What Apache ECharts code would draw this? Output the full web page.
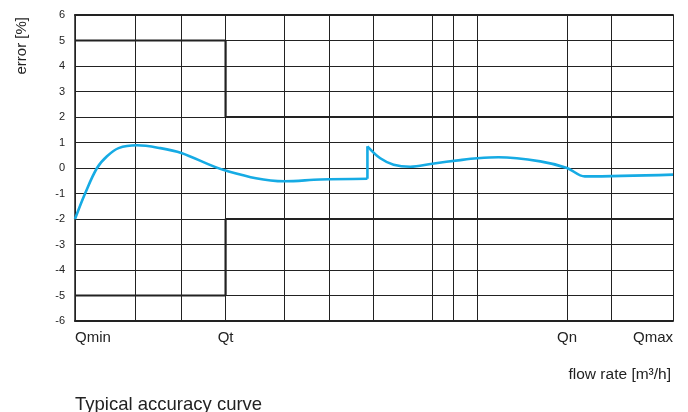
<!DOCTYPE html>
<html>
<head>
<meta charset="utf-8">
<script src="https://cdn.jsdelivr.net/npm/echarts@6/dist/echarts.min.js"></script>
<style>html,body{margin:0;padding:0;background:#fff}#c{width:688px;height:412px}</style>
</head>
<body>
<div id="c"></div>
<script>
// ---- data ----
var gridX = [0, 10.13, 17.78, 25.18, 35.05, 42.47, 49.83, 59.75, 63.31, 67.27, 82.27, 89.68, 100];
var xTickValues = [0, 25.18, 82.27, 100];
var xTickLabels = ['Qmin', 'Qt', 'Qn', 'Qmax'];
var yTicks = [-6, -5, -4, -3, -2, -1, 0, 1, 2, 3, 4, 5, 6];
var limitX = [0, 25.18, 25.18, 100];
var upperLimit = [5, 5, 2, 2];
var lowerLimit = [-5, -5, -2, -2];
var curveLowX = [0, 1.72, 3.68, 5.35, 7.29, 10.37, 14.26, 17.78, 25.18, 35.05, 41.02, 48.9];
var curveLowY = [-2.0, -0.98, 0.0, 0.46, 0.78, 0.89, 0.78, 0.59, -0.1, -0.52, -0.45, -0.42];
var curveHighX = [48.9, 51.05, 53.28, 56.07, 59.75, 64.43, 67.27, 70.79, 77.81, 82.27, 85.25, 100];
var curveHighY = [0.85, 0.38, 0.13, 0.05, 0.17, 0.31, 0.38, 0.42, 0.26, 0.0, -0.33, -0.26];

function pairs(xs, ys) { return xs.map(function (x, i) { return [x, ys[i]]; }); }

var FONT = 'Liberation Sans, Arial, sans-serif';
var DARK = '#222';
var BLUE = '#16abe4';

var chart = echarts.init(document.getElementById('c'), null, {renderer: 'canvas'});
chart.setOption({
  animation: false,
  grid: {left: 75, top: 15, width: 598, height: 306, containLabel: false},
  xAxis: [{
    type: 'value', min: 0, max: 100,
    axisLine: {show: true, onZero: false, lineStyle: {color: DARK, width: 2}},
    axisTick: {show: false},
    splitLine: {show: false},
    axisLabel: {
      customValues: xTickValues,
      formatter: function (v) { var i = xTickValues.indexOf(v); return i >= 0 ? xTickLabels[i] : ''; },
      alignMinLabel: 'left', alignMaxLabel: 'right',
      fontFamily: FONT, fontSize: 15, color: DARK, margin: 9
    }
  }, {
    type: 'value', min: 0, max: 100, position: 'top',
    axisLine: {show: true, onZero: false, lineStyle: {color: DARK, width: 2}},
    axisTick: {show: false}, axisLabel: {show: false}, splitLine: {show: false}
  }],
  yAxis: {
    type: 'value', min: yTicks[0], max: yTicks[yTicks.length - 1], interval: 1,
    axisLine: {show: true, onZero: false, lineStyle: {color: DARK, width: 1.5}},
    axisTick: {show: false},
    splitLine: {show: true, lineStyle: {color: DARK, width: 1}},
    axisLabel: {fontFamily: FONT, fontSize: 11, color: DARK, margin: 10}
  },
  series: [
    {
      type: 'line', data: pairs(limitX, upperLimit), symbol: 'none',
      lineStyle: {color: DARK, width: 2.2}, z: 3,
      markLine: {
        silent: true, symbol: ['none', 'none'], label: {show: false},
        lineStyle: {color: DARK, width: 1, type: 'solid'},
        data: gridX.map(function (v) { return {xAxis: v}; })
      }
    },
    {type: 'line', data: pairs(limitX, lowerLimit), symbol: 'none', lineStyle: {color: DARK, width: 2.2}, z: 3},
    {type: 'line', data: pairs(curveLowX, curveLowY), symbol: 'none', smooth: 0.35, lineStyle: {color: BLUE, width: 2.6}, z: 5},
    {type: 'line', data: [[curveLowX[curveLowX.length - 1], curveLowY[curveLowY.length - 1]], [curveHighX[0], curveHighY[0]]], symbol: 'none', lineStyle: {color: BLUE, width: 2.6}, z: 5},
    {type: 'line', data: pairs(curveHighX, curveHighY), symbol: 'none', smooth: 0.35, lineStyle: {color: BLUE, width: 2.6}, z: 5}
  ],
  graphic: [
    {type: 'text', left: 14, top: 17, rotation: Math.PI / 2, style: {text: 'error [%]', font: '15px ' + FONT, fill: DARK}},
    {type: 'text', right: 17, top: 367, style: {text: 'flow rate [m³/h]', font: '15.5px ' + FONT, fill: DARK}},
    {type: 'text', left: 75, top: 395, style: {text: 'Typical accuracy curve', font: '18.5px ' + FONT, fill: DARK}}
  ]
});
</script>
</body>
</html>
